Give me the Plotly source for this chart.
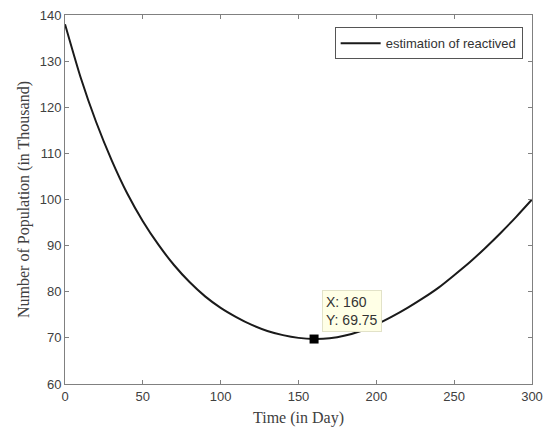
import plotly.graph_objects as go

time_days = [0, 10, 20, 30, 40, 50, 60, 70, 80, 90, 100, 110, 120, 130, 140, 150,
             160, 170, 180, 190, 200, 210, 220, 230, 240, 250, 260, 270, 280, 290, 300]
reactived = [138.0, 126.5, 116.8, 108.5, 101.3, 95.3, 90.2, 85.8, 82.1, 79.0, 76.5,
             74.5, 72.8, 71.5, 70.6, 70.0, 69.75, 69.9, 70.5, 71.5, 72.9, 74.6, 76.5,
             78.6, 80.9, 83.6, 86.4, 89.5, 92.8, 96.3, 100.0]
tip_x = 160
tip_y = 69.75
x_ticks = [0, 50, 100, 150, 200, 250, 300]
y_ticks = [60, 70, 80, 90, 100, 110, 120, 130, 140]

fig = go.Figure()
fig.add_trace(go.Scatter(
    x=time_days, y=reactived, mode="lines", name="estimation of reactived",
    line=dict(color="#1a1a1a", width=2, shape="spline", smoothing=0.6),
))
fig.add_trace(go.Scatter(
    x=[tip_x], y=[tip_y], mode="markers", showlegend=False,
    marker=dict(symbol="square", size=9, color="black"),
))
fig.add_annotation(
    x=tip_x, y=tip_y, xref="x", yref="y", showarrow=False,
    text=f"X: {tip_x}<br>Y: {tip_y}", align="left",
    xanchor="left", yanchor="bottom", xshift=8, yshift=7,
    bgcolor="#ffffe6", bordercolor="#e2e2c8", borderwidth=1, borderpad=3,
    font=dict(family="Liberation Sans, Arial", size=14, color="#333333"),
)

axis_common = dict(
    showline=True, linecolor="#808080", linewidth=1, mirror="allticks",
    ticks="inside", ticklen=4, tickcolor="#808080", showgrid=False, zeroline=False,
    automargin=False,
    tickfont=dict(family="Liberation Sans, Arial", size=13, color="#404040"),
)
fig.update_xaxes(range=[0, 300], tickvals=x_ticks,
                 title=dict(text="Time (in Day)", standoff=9,
                            font=dict(family="Liberation Serif, Times New Roman", size=16, color="#404040")),
                 **axis_common)
fig.update_yaxes(range=[60, 140], tickvals=y_ticks,
                 title=dict(text="Number of Population (in Thousand)", standoff=6,
                            font=dict(family="Liberation Serif, Times New Roman", size=16, color="#404040")),
                 **axis_common)

fig.update_layout(
    width=549, height=427,
    margin=dict(l=65, r=17, t=15, b=43),
    paper_bgcolor="white", plot_bgcolor="white",
    legend=dict(x=0.98, y=0.967, xanchor="right", yanchor="top",
                bgcolor="white", bordercolor="#555555", borderwidth=1,
                font=dict(family="Liberation Sans, Arial", size=13, color="#333333"),
                itemwidth=40, tracegroupgap=0),
)
fig.write_html("out.html")
